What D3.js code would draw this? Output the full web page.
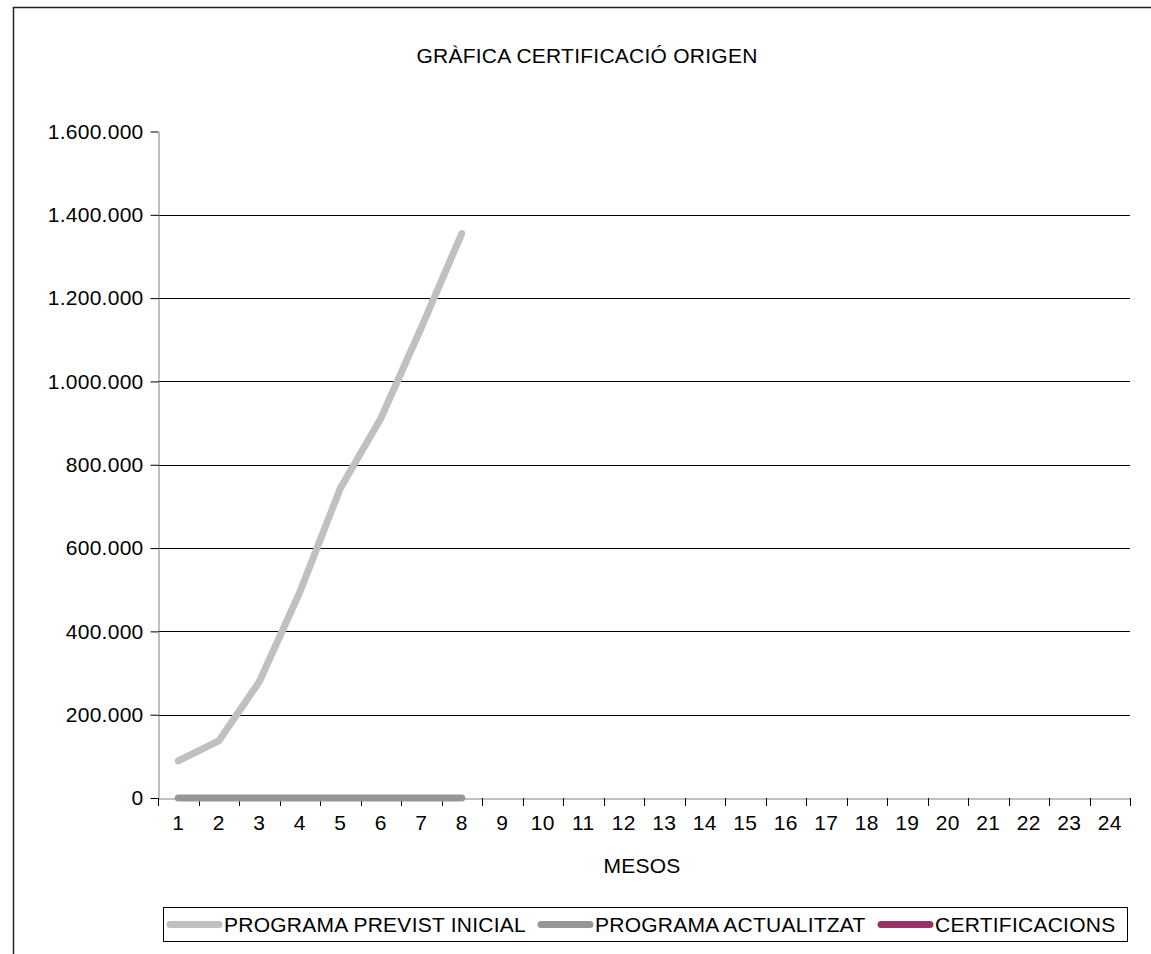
<!DOCTYPE html>
<html>
<head>
<meta charset="utf-8">
<script src="https://cdn.jsdelivr.net/npm/d3@7"></script>
<style>
  html, body { margin: 0; padding: 0; background: #fff; }
  svg { display: block; }
  text { font-family: "Liberation Sans", Arial, sans-serif; fill: #000; letter-spacing: 0.25px; }
</style>
</head>
<body>
<div id="chart"></div>
<script>
// ---- data ----
const title = "GRÀFICA CERTIFICACIÓ ORIGEN";
const xTitle = "MESOS";
const months = d3.range(1, 25);
const yTicks = [0, 200000, 400000, 600000, 800000, 1000000, 1200000, 1400000, 1600000];
const seriesNames = ["PROGRAMA PREVIST INICIAL", "PROGRAMA ACTUALITZAT", "CERTIFICACIONS"];
const previstInicial = [89000, 137000, 279000, 494000, 743000, 911000, 1129000, 1355000];
const actualitzat = [0, 0, 0, 0, 0, 0, 0, 0];
const certificacions = [];
const seriesColors = ["#c0c0c0", "#969696", "#993366"];

// ---- layout ----
const W = 1151, H = 954;
const plot = { left: 158, right: 1130, top: 131.5, bottom: 798 };
const FS = "21px";

const svg = d3.select("#chart").append("svg")
  .attr("width", W).attr("height", H);

// outer border (extends beyond bottom/right of view)
svg.append("rect")
  .attr("x", 13.5).attr("y", 7.5)
  .attr("width", 1300).attr("height", 1100)
  .attr("fill", "none").attr("stroke", "#222").attr("stroke-width", 1.5);

const x = d3.scaleBand().domain(months).range([plot.left, plot.right]).padding(0);
const y = d3.scaleLinear().domain([0, 1600000]).range([plot.bottom, plot.top]);

const loc = d3.formatLocale({ decimal: ",", thousands: ".", grouping: [3], currency: ["", "€"] });
const fmt = loc.format(",d");

// gridlines
svg.append("g").selectAll("line")
  .data(yTicks.filter(d => d > 0 && d < 1600000))
  .join("line")
  .attr("x1", plot.left).attr("x2", plot.right)
  .attr("y1", d => Math.round(y(d)) + 0.5).attr("y2", d => Math.round(y(d)) + 0.5)
  .attr("stroke", "#000").attr("stroke-width", 1);

// y axis
const yAxis = svg.append("g")
  .attr("transform", `translate(${plot.left + 0.5},0)`)
  .call(d3.axisLeft(y).tickValues(yTicks).tickFormat(fmt).tickSize(8).tickPadding(7).tickSizeOuter(0));
yAxis.select(".domain").attr("stroke", "#808080");
yAxis.selectAll(".tick line").attr("stroke", "#000");
yAxis.selectAll("text").style("font-size", FS).attr("fill", "#000")
  .style("font-family", "'Liberation Sans', Arial, sans-serif");

// x axis line
const xAxis = svg.append("g")
  .attr("transform", `translate(0,${plot.bottom + 0.5})`)
  .call(d3.axisBottom(x).tickSize(0).tickPadding(17));
xAxis.select(".domain").attr("stroke", "#808080");
xAxis.selectAll("text").style("font-size", FS).attr("fill", "#000")
  .style("font-family", "'Liberation Sans', Arial, sans-serif");

// x boundary ticks
const bounds = months.map(m => x(m)).concat([x(months[months.length - 1]) + x.bandwidth()]);
svg.append("g").selectAll("line").data(bounds).join("line")
  .attr("x1", d => Math.round(d) + 0.5).attr("x2", d => Math.round(d) + 0.5)
  .attr("y1", plot.bottom).attr("y2", plot.bottom + 8)
  .attr("stroke", "#000");

// series lines
const line = d3.line()
  .x((d, i) => x(months[i]) + x.bandwidth() / 2)
  .y(d => y(d));
const allSeries = [previstInicial, actualitzat, certificacions];
allSeries.forEach((s, i) => {
  if (!s.length) return;
  svg.append("path").datum(s)
    .attr("d", line)
    .attr("fill", "none")
    .attr("stroke", seriesColors[i])
    .attr("stroke-width", 7)
    .attr("stroke-linecap", "round")
    .attr("stroke-linejoin", "round");
});

// titles
svg.append("text").attr("x", 587).attr("y", 63).attr("text-anchor", "middle")
  .style("font-size", FS).text(title);
svg.append("text").attr("x", 642).attr("y", 873).attr("text-anchor", "middle")
  .style("font-size", FS).text(xTitle);

// legend
const legend = svg.append("g");
legend.append("rect")
  .attr("x", 163.5).attr("y", 907.5).attr("width", 964).attr("height", 34)
  .attr("fill", "#fff").attr("stroke", "#000").attr("stroke-width", 1);
const legendX = [167, 538, 878];
seriesNames.forEach((name, i) => {
  const g = legend.append("g").attr("transform", `translate(${legendX[i]},924.5)`);
  g.append("line").attr("x1", 3).attr("x2", 52).attr("y1", 0).attr("y2", 0)
    .attr("stroke", seriesColors[i]).attr("stroke-width", 7).attr("stroke-linecap", "round");
  g.append("text").attr("x", 57).attr("y", 7.5).style("font-size", FS).text(name);
});
</script>
</body>
</html>
